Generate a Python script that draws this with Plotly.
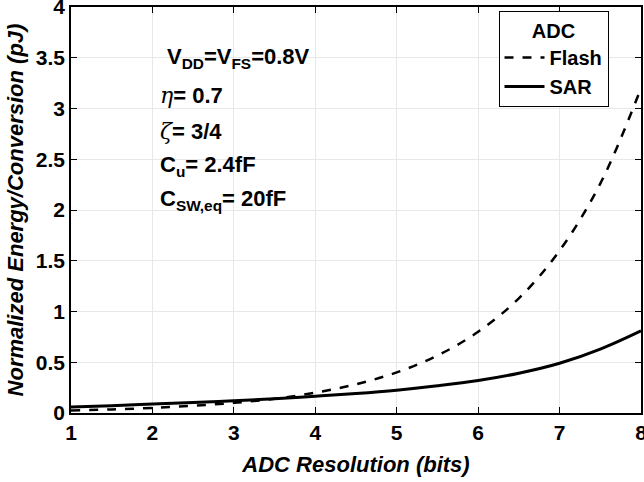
import plotly.graph_objects as go

bits = [1, 1.5, 2, 2.5, 3, 3.5, 4, 4.5, 5, 5.5, 6, 6.5, 7, 7.5, 8]
flash = [0.025, 0.035, 0.05, 0.071, 0.10, 0.141, 0.20, 0.283, 0.40, 0.566, 0.80, 1.13, 1.60, 2.26, 3.20]
sar = [0.06, 0.072, 0.088, 0.104, 0.12, 0.14, 0.165, 0.192, 0.225, 0.268, 0.32, 0.392, 0.49, 0.63, 0.81]

xticks = [1, 2, 3, 4, 5, 6, 7, 8]
yticks = [0, 0.5, 1, 1.5, 2, 2.5, 3, 3.5, 4]
ytick_text = ["0", "0.5", "1", "1.5", "2", "2.5", "3", "3.5", "4"]

FONT = "Liberation Sans, Arial, sans-serif"

fig = go.Figure()
fig.add_trace(go.Scatter(x=bits, y=flash, mode="lines", name="<b>Flash</b>",
                         line=dict(color="black", width=2.5, dash="dash", shape="spline")))
fig.add_trace(go.Scatter(x=bits, y=sar, mode="lines", name="<b>SAR</b>",
                         line=dict(color="black", width=3, shape="spline")))

axis_common = dict(showgrid=True, gridcolor="#e8e8e8", gridwidth=1,
                   showline=True, linecolor="black", linewidth=1.5, mirror="ticks",
                   ticks="inside", ticklen=6, tickcolor="black", zeroline=False,
                   automargin=False, ticklabeloverflow="allow",
                   tickfont=dict(family=FONT, size=21, color="black"))

fig.update_xaxes(range=[1, 8], tickvals=xticks, ticktext=[f"<b>{t}</b>" for t in xticks],
                 title=dict(text="<b><i>ADC Resolution (bits)</i></b>",
                            font=dict(family=FONT, size=22, color="black"), standoff=14),
                 **axis_common)
fig.update_yaxes(range=[0, 4], tickvals=yticks, ticktext=[f"<b>{t}</b>" for t in ytick_text],
                 title=dict(text="<b><i>Normalized Energy/Conversion (pJ)</i></b>",
                            font=dict(family=FONT, size=22, color="black"), standoff=6),
                 **axis_common)

ann_font = dict(family=FONT, size=22, color="black")
texts = [
    (0.165, 3.50, "<b>V<sub>DD</sub>=V<sub>FS</sub>=0.8V</b>"),
    (0.153, 3.13, "<b><i style='font-family:DejaVu Serif;font-weight:normal'>η</i>= 0.7</b>"),
    (0.153, 2.77, "<b><i style='font-family:DejaVu Serif;font-weight:normal'>ζ</i>= 3/4</b>"),
    (0.153, 2.43, "<b>C<sub>u</sub>= 2.4fF</b>"),
    (0.153, 2.10, "<b>C<sub>SW,eq</sub>= 20fF</b>"),
]
for xp, yv, t in texts:
    fig.add_annotation(x=xp, xref="paper", y=yv, yref="y", text=t, showarrow=False,
                       xanchor="left", yanchor="middle", font=ann_font)

fig.update_layout(
    width=644, height=482,
    margin=dict(l=71, r=3, t=7, b=69, autoexpand=False),
    plot_bgcolor="white", paper_bgcolor="white",
    font=dict(family=FONT, color="black"),
    legend=dict(title=dict(text="<b>ADC</b>", side="top center", font=dict(family=FONT, size=20)),
                x=0.943, xanchor="right", y=0.99, yanchor="top",
                bordercolor="black", borderwidth=1, bgcolor="white",
                font=dict(family=FONT, size=20), tracegroupgap=0, itemwidth=40),
    showlegend=True,
)

fig.write_html("out.html", config={"displayModeBar": False},
               post_script="document.body.style.margin='0';document.body.style.overflow='hidden';")
